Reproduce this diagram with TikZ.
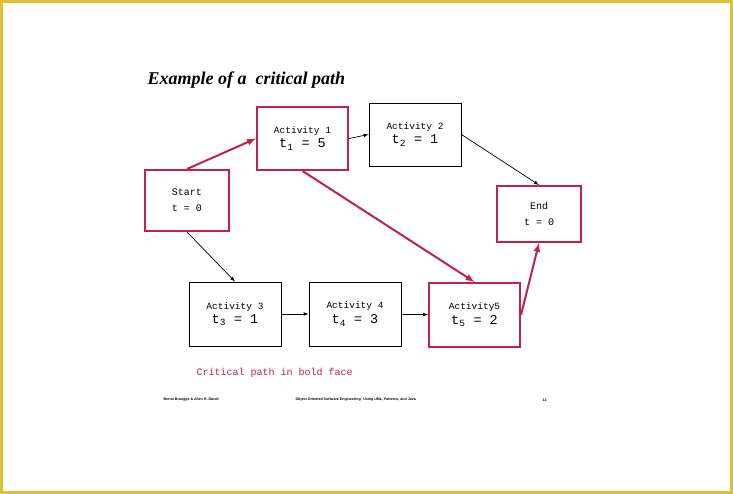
\documentclass[tikz,border=0pt]{standalone}
\usepackage{fontspec}
\setmainfont{Liberation Serif}
\setmonofont{Liberation Mono}
\setsansfont{Liberation Sans}
\usetikzlibrary{arrows}
\definecolor{critred}{RGB}{190,35,75}
\definecolor{frameyellow}{RGB}{222,192,55}
\tikzset{box/.style = {draw, line width = 0.9, minimum width = 92, minimum height = 63,
    align = center, font = \ttfamily\fontsize{9.5}{11}\selectfont, inner sep = 0}}
\tikzset{critbox/.style = {box, draw = critred, line width = 2}}
\tikzset{link/.style = {-latex, line width = 0.7}}
\tikzset{critlink/.style = {-latex, critred, line width = 2}}
\newcommand{\dur}[2]{\\[3pt]{\fontsize{13.5}{14}\selectfont t\textsubscript{#1} = #2}}

\begin{document}
\begin{tikzpicture}[x = 1pt, y = -1pt]
    \useasboundingbox (0, 0) rectangle (733, 494);
    \draw [frameyellow, line width = 3] (1.5, 1.5) rectangle (731.5, 492.5);

    \node [anchor = base west, font = \bfseries\itshape\fontsize{18}{19}\selectfont]
      (title) at (144, 85) {Example of a\ \ critical path};

    \node [critbox, minimum width = 84, minimum height = 61,
      font = \ttfamily\fontsize{10}{12}\selectfont] (start) at (187, 200.5)
      {Start\\[4pt]t = 0};
    \node [critbox, minimum width = 91] (act1) at (302.5, 138.5) {Activity 1\dur{1}{5}};
    \node [box] (act2) at (415, 134.5) {Activity 2\dur{2}{1}};
    \node [critbox, minimum width = 84, minimum height = 56,
      font = \ttfamily\fontsize{10}{12}\selectfont] (end) at (539, 214)
      {End\\[4pt]t = 0};
    \node [box, minimum height = 64] (act3) at (235, 314) {Activity 3\dur{3}{1}};
    \node [box, minimum height = 64] (act4) at (355, 314) {Activity 4\dur{4}{3}};
    \node [critbox, minimum width = 91, minimum height = 64] (act5) at (474.5, 315)
      {Activity5\dur{5}{2}};

    \draw [critlink] (start.north) -- (act1.west);
    \draw [link] (act1.east) -- (act2.west);
    \draw [link] (act2.east) -- (end.north);
    \draw [link] (start.south) -- (act3.north);
    \draw [link] (act3) -- (act4);
    \draw [link] (act4) -- (act5);
    \draw [critlink] (act1.south) -- (act5.north);
    \draw [critlink] (act5.east) -- (end.south);

    \node [anchor = west, critred, font = \ttfamily\fontsize{10}{12}\selectfont]
      (note) at (193, 373) {Critical path in bold face};

    \node [anchor = west, font = \sffamily\bfseries\fontsize{3.6}{4}\selectfont]
      (authors) at (160, 400) {Bernd Bruegge \& Allen H. Dutoit};
    \node [anchor = west, font = \sffamily\bfseries\fontsize{3.6}{4}\selectfont]
      (book) at (292, 400) {Object-Oriented Software Engineering: Using UML, Patterns, and Java};
    \node [anchor = west, font = \sffamily\bfseries\fontsize{3.6}{4}\selectfont]
      (page) at (539, 400) {12};
  \end{tikzpicture}
\end{document}
